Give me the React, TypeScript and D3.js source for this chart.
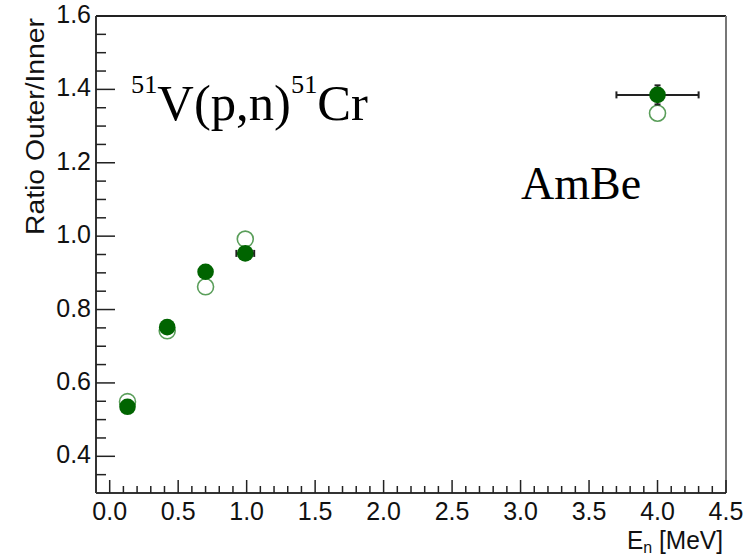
import React, { useEffect, useRef } from "react";
import * as d3 from "d3";

// Neutron energy (MeV) of each measurement
const energies = [0.13, 0.42, 0.7, 0.99, 4.0];
// Ratio outer/inner, filled markers
const ratioFilled = [0.535, 0.752, 0.903, 0.953, 1.385];
// Ratio outer/inner, open markers
const ratioOpen = [0.549, 0.742, 0.862, 0.992, 1.335];
// Error bars of filled markers
const energyErr = [0, 0, 0, 0.065, 0.3];
const ratioErr = [0, 0, 0, 0, 0.026];

const xMajorTicks = [0, 0.5, 1, 1.5, 2, 2.5, 3, 3.5, 4, 4.5];
const yMajorTicks = [0.4, 0.6, 0.8, 1.0, 1.2, 1.4, 1.6];

const App = () => {
  const chartRef = useRef<SVGSVGElement | null>(null);

  useEffect(() => {
    const width = 752;
    const height = 557;
    const left = 96;
    const right = 726;
    const top = 16;
    const bottom = 493;
    const sans = "'Liberation Sans', Arial, sans-serif";
    const serif = "'Liberation Serif', 'Times New Roman', serif";
    const dark = "#006400";

    const svg = d3.select(chartRef.current);
    svg.selectAll("*").remove();
    svg.attr("width", width).attr("height", height);

    svg.append("rect").attr("width", width).attr("height", height).attr("fill", "#fff");

    const x = d3.scaleLinear().domain([-0.1, 4.5]).range([left, right]);
    const y = d3.scaleLinear().domain([0.3, 1.6]).range([bottom, top]);

    // Frame
    svg.append("line").attr("x1", left).attr("x2", right).attr("y1", top).attr("y2", top)
      .attr("stroke", "#222").attr("stroke-width", 2);
    svg.append("line").attr("x1", right).attr("x2", right).attr("y1", top).attr("y2", bottom)
      .attr("stroke", "#777").attr("stroke-width", 2);

    // X axis
    const xMinor = d3.range(0, 46).map((i) => i / 10).filter((v) => Math.abs(v * 2 - Math.round(v * 2)) > 1e-6);
    const xAxis = svg.append("g");
    xAxis.append("line").attr("x1", left).attr("x2", right).attr("y1", bottom).attr("y2", bottom)
      .attr("stroke", "#333").attr("stroke-width", 2);
    xAxis.selectAll(".xmaj").data(xMajorTicks).enter().append("line")
      .attr("x1", (d) => x(d)).attr("x2", (d) => x(d))
      .attr("y1", bottom).attr("y2", bottom - 13)
      .attr("stroke", "#222").attr("stroke-width", 1.5);
    xAxis.selectAll(".xmin").data(xMinor).enter().append("line")
      .attr("x1", (d) => x(d)).attr("x2", (d) => x(d))
      .attr("y1", bottom).attr("y2", bottom - 7)
      .attr("stroke", "#222").attr("stroke-width", 1.5);
    xAxis.selectAll(".xlab").data(xMajorTicks).enter().append("text")
      .attr("x", (d) => x(d)).attr("y", 519.5)
      .attr("text-anchor", "middle")
      .attr("font-family", sans).attr("font-size", 25).attr("fill", "#111")
      .text((d) => d.toFixed(1));

    // Y axis
    const yMinor = d3.range(7, 32).map((i) => i / 20).filter((v) => Math.abs(v * 5 - Math.round(v * 5)) > 1e-6);
    const yAxis = svg.append("g");
    yAxis.append("line").attr("x1", left).attr("x2", left).attr("y1", top).attr("y2", bottom)
      .attr("stroke", "#333").attr("stroke-width", 2);
    yAxis.selectAll(".ymaj").data(yMajorTicks).enter().append("line")
      .attr("x1", left).attr("x2", left + 19)
      .attr("y1", (d) => y(d)).attr("y2", (d) => y(d))
      .attr("stroke", "#222").attr("stroke-width", 1.5);
    yAxis.selectAll(".ymin").data(yMinor).enter().append("line")
      .attr("x1", left).attr("x2", left + 10)
      .attr("y1", (d) => y(d)).attr("y2", (d) => y(d))
      .attr("stroke", "#222").attr("stroke-width", 1.5);
    yAxis.selectAll(".ylab").data(yMajorTicks).enter().append("text")
      .attr("x", 91).attr("y", (d) => y(d) + 7)
      .attr("text-anchor", "end")
      .attr("font-family", sans).attr("font-size", 25).attr("fill", "#111")
      .text((d) => d.toFixed(1));

    // Axis titles
    svg.append("text")
      .attr("transform", "translate(44,235) rotate(-90)")
      .attr("font-family", sans).attr("font-size", 25).attr("fill", "#111")
      .attr("textLength", 217).attr("lengthAdjust", "spacingAndGlyphs")
      .text("Ratio Outer/Inner");

    const xt = svg.append("text")
      .attr("x", 627).attr("y", 549)
      .attr("font-family", sans).attr("font-size", 26).attr("fill", "#111")
      .attr("textLength", 96).attr("lengthAdjust", "spacingAndGlyphs");
    xt.append("tspan").text("E");
    xt.append("tspan").attr("font-size", 17).attr("dy", 4).text("n");
    xt.append("tspan").attr("dy", -4).text(" [MeV]");

    // Annotations
    const ann = svg.append("text")
      .attr("x", 131).attr("y", 120)
      .attr("font-family", serif).attr("font-size", 50).attr("fill", "#000")
      .attr("textLength", 237).attr("lengthAdjust", "spacingAndGlyphs");
    ann.append("tspan").attr("font-size", 26).attr("dy", -27).text("51");
    ann.append("tspan").attr("dy", 27).text("V(p,n)");
    ann.append("tspan").attr("font-size", 26).attr("dy", -27).text("51");
    ann.append("tspan").attr("dy", 27).text("Cr");

    svg.append("text")
      .attr("x", 521).attr("y", 199)
      .attr("font-family", serif).attr("font-size", 46).attr("fill", "#000")
      .text("AmBe");

    const points = energies.map((e, i) => ({
      e,
      filled: ratioFilled[i],
      open: ratioOpen[i],
      ex: energyErr[i],
      ey: ratioErr[i],
    }));

    // Open markers
    svg.append("g").selectAll("circle").data(points).enter().append("circle")
      .attr("cx", (d) => x(d.e)).attr("cy", (d) => y(d.open)).attr("r", 8)
      .attr("fill", "none").attr("stroke", "#5a9e5a").attr("stroke-width", 1.6);

    // Error bars of filled markers
    const err = svg.append("g").attr("stroke", "#222").attr("stroke-width", 2);
    points.filter((d) => d.ex > 0).forEach((d) => {
      err.append("line").attr("x1", x(d.e - d.ex)).attr("x2", x(d.e + d.ex))
        .attr("y1", y(d.filled)).attr("y2", y(d.filled));
      [d.e - d.ex, d.e + d.ex].forEach((v) => {
        err.append("line").attr("x1", x(v)).attr("x2", x(v))
          .attr("y1", y(d.filled) - 3.5).attr("y2", y(d.filled) + 3.5);
      });
    });
    points.filter((d) => d.ey > 0).forEach((d) => {
      err.append("line").attr("x1", x(d.e)).attr("x2", x(d.e))
        .attr("y1", y(d.filled - d.ey)).attr("y2", y(d.filled + d.ey));
      [d.filled - d.ey, d.filled + d.ey].forEach((v) => {
        err.append("line").attr("x1", x(d.e) - 3).attr("x2", x(d.e) + 3)
          .attr("y1", y(v)).attr("y2", y(v));
      });
    });

    // Filled markers
    svg.append("g").selectAll("circle").data(points).enter().append("circle")
      .attr("cx", (d) => x(d.e)).attr("cy", (d) => y(d.filled)).attr("r", 8.3)
      .attr("fill", dark);
  }, []);

  return (
    <svg ref={chartRef} style={{ position: "absolute", left: 0, top: 0, display: "block" }} />
  );
};

export default App;
